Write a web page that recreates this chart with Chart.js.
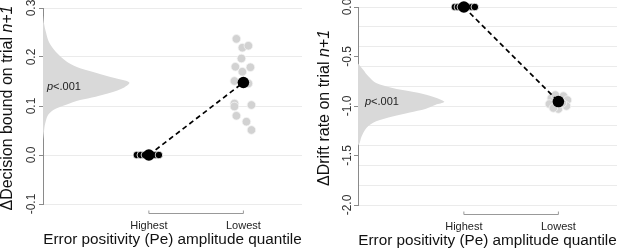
<!DOCTYPE html>
<html>
<head>
<meta charset="utf-8">
<script src="https://cdn.jsdelivr.net/npm/chart.js@4/dist/chart.umd.min.js"></script>
<style>
  body { margin: 0; background: #fff; }
  #wrap { position: relative; width: 617px; height: 250px; }
  canvas { position: absolute; top: 0; }
</style>
</head>
<body>
<div id="wrap">
  <canvas id="boundChart" width="310" height="250" style="left:0"></canvas>
  <canvas id="driftChart" width="307" height="250" style="left:310px"></canvas>
</div>
<script>
var quantiles = ["Highest", "Lowest"];

// left panel: change in decision bound
var boundTicks = [-0.1, 0.0, 0.1, 0.2, 0.3];
var boundMeans = [0, 0.148];
var boundHighest = [0, 0, 0, 0, 0, 0];
var boundHighestJitter = [-0.127, -0.085, -0.042, 0.042, 0.074, 0.106];
var boundLowest = [0.237, 0.219, 0.223, 0.197, 0.180, 0.179, 0.170, 0.151, 0.146, 0.105, 0.099, 0.102, 0.080, 0.068, 0.051];
var boundLowestJitter = [-0.074, -0.011, 0.053, -0.021, -0.085, 0.074, -0.011, -0.095, 0.053, -0.095, -0.095, 0.085, -0.074, 0.032, 0.085];
var boundDensityY = [0.285, 0.27, 0.25, 0.23, 0.21, 0.19, 0.177, 0.167, 0.157, 0.148, 0.138, 0.127, 0.119, 0.112, 0.102, 0.092, 0.082, 0.071, 0.06, 0.045, 0.03];
var boundDensity = [0, 1, 3.5, 7, 15, 28, 43, 63, 83, 100, 94, 78, 61, 43, 26, 12, 6, 3.5, 2, 1, 0];

// right panel: change in drift rate
var driftTicks = [-2.0, -1.5, -1.0, -0.5, 0.0];
var driftMeans = [0, -0.955];
var driftHighest = [0, 0, 0, 0, 0, 0];
var driftHighestJitter = [-0.095, -0.063, -0.032, 0.042, 0.085, 0.116];
var driftLowest = [-0.92, -0.89, -0.90, -0.94, -0.98, -1.0, -1.03, -1.02, -0.97];
var driftLowestJitter = [-0.074, -0.032, 0.053, 0.095, -0.095, 0.085, 0, -0.053, 0.042];
var driftDensityY = [-0.57, -0.633, -0.70, -0.768, -0.818, -0.852, -0.886, -0.936, -0.96, -0.987, -1.03, -1.065, -1.105, -1.155, -1.22, -1.31, -1.37, -1.40];
var driftDensity = [0, 6, 12, 21, 40, 60, 79, 96, 100, 90, 78, 60, 40, 21, 10, 4, 2, 0];

var FONT = '"Liberation Sans", Arial, sans-serif';

function pairs(xs, ys, base) {
  var out = [];
  for (var i = 0; i < ys.length; i++) {
    out.push({ x: (base || 0) + xs[i], y: ys[i] });
  }
  return out;
}

function drawMixed(ctx, parts, x, y) {
  // parts: [[text, italic], ...] drawn left to right starting at x
  var cx = x;
  parts.forEach(function (p) {
    ctx.font = (p[1] ? 'italic ' : '') + ctx._size + 'px ' + FONT;
    ctx.fillText(p[0], cx, y);
    cx += ctx.measureText(p[0]).width;
  });
}

function mixedWidth(ctx, parts) {
  var w = 0;
  parts.forEach(function (p) {
    ctx.font = (p[1] ? 'italic ' : '') + ctx._size + 'px ' + FONT;
    w += ctx.measureText(p[0]).width;
  });
  return w;
}

var axisText = {
  id: 'axisText',
  afterDraw: function (chart, args, opts) {
    var ctx = chart.ctx;
    var area = chart.chartArea;
    var xs = chart.scales.x, ys = chart.scales.y;
    ctx.save();

    // rotated y tick labels
    ctx.fillStyle = '#333';
    ctx.font = '12px ' + FONT;
    ctx.textAlign = 'center';
    ctx.textBaseline = 'middle';
    opts.ticks.forEach(function (v) {
      ctx.save();
      ctx.translate(area.left - opts.tickGap, ys.getPixelForValue(v));
      ctx.rotate(-Math.PI / 2);
      ctx.fillText(v.toFixed(1), 0, 0);
      ctx.restore();
    });

    // y axis title
    ctx.fillStyle = '#111';
    ctx.textAlign = 'left';
    ctx._size = 16;
    var tw = mixedWidth(ctx, opts.yTitle);
    ctx.save();
    ctx.translate(area.left - opts.titleGap, (area.top + area.bottom) / 2 + 2);
    ctx.rotate(-Math.PI / 2);
    drawMixed(ctx, opts.yTitle, -tw / 2, 0);
    ctx.restore();

    // p value next to the density
    ctx.fillStyle = '#222';
    ctx._size = 11;
    drawMixed(ctx, [['p', true], ['<.001', false]], area.left + opts.pX, ys.getPixelForValue(opts.pY));

    // bracket under the two quantiles
    var x1 = xs.getPixelForValue(1), x2 = xs.getPixelForValue(2);
    var by = Math.round(area.bottom + 9) + 0.5;
    ctx.strokeStyle = '#999';
    ctx.lineWidth = 1;
    ctx.beginPath();
    ctx.moveTo(x1, by - 3);
    ctx.lineTo(x1, by);
    ctx.lineTo(x2, by);
    ctx.lineTo(x2, by - 3);
    ctx.stroke();

    // category labels
    ctx.fillStyle = '#222';
    ctx.font = '11px ' + FONT;
    ctx.textAlign = 'center';
    quantiles.forEach(function (q, i) {
      ctx.fillText(q, xs.getPixelForValue(i + 1), area.bottom + 22);
    });

    // x axis title
    ctx.fillStyle = '#111';
    ctx.font = '15.3px ' + FONT;
    ctx.fillText('Error positivity (Pe) amplitude quantile', (area.left + area.right) / 2, area.bottom + 36);
    ctx.restore();
  }
};

function makeChart(id, cfg) {
  var datasets = [
    {
      type: 'line',
      data: [{ x: 1, y: cfg.means[0] }, { x: 2, y: cfg.means[1] }],
      borderColor: '#000',
      borderWidth: 1.7,
      borderDash: [5, 3.5],
      pointRadius: 5.8,
      pointBorderWidth: 0,
      pointBackgroundColor: '#000',
      clip: false
    },
    {
      type: 'scatter',
      data: pairs(cfg.highJitter, cfg.high, 1),
      pointRadius: 3.8,
      pointBackgroundColor: '#000',
      pointBorderColor: '#fff',
      pointBorderWidth: 0.8,
      clip: false
    },
    {
      type: 'scatter',
      data: pairs(cfg.lowJitter, cfg.low, 2),
      pointRadius: 4.3,
      pointBackgroundColor: '#d2d2d2',
      pointBorderColor: '#f4f4f4',
      pointBorderWidth: 0.8,
      clip: false
    },
    {
      type: 'line',
      xAxisID: 'xd',
      data: pairs(cfg.density, cfg.densityY),
      borderWidth: 0,
      pointRadius: 0,
      tension: 0.3,
      backgroundColor: '#d9d9d9',
      fill: 'shape'
    }
  ];

  return new Chart(document.getElementById(id), {
    type: 'scatter',
    data: { datasets: datasets },
    options: {
      responsive: false,
      animation: false,
      events: [],
      layout: { autoPadding: false, padding: cfg.padding },
      plugins: {
        legend: { display: false },
        tooltip: { enabled: false },
        axisText: cfg.text
      },
      scales: {
        x: { type: 'linear', display: false, min: -0.12, max: 2.62 },
        xd: { type: 'linear', display: false, min: 0, max: 300 },
        y: {
          type: 'linear',
          min: cfg.yMin,
          max: cfg.yMax,
          afterFit: function (s) { s.width = cfg.axisWidth; },
          ticks: { display: false, stepSize: 0.1, maxTicksLimit: 100, autoSkip: false },
          border: { color: '#8a8a8a', width: 1 },
          grid: {
            tickLength: 4,
            color: function (c) {
              var k = Math.round(c.tick.value * 10);
              return k % cfg.gridEvery === 0 ? '#ebebeb' : 'rgba(0,0,0,0)';
            },
            tickColor: function (c) {
              var k = Math.round(c.tick.value * 10);
              return k % cfg.labelEvery === 0 ? '#8a8a8a' : 'rgba(0,0,0,0)';
            }
          }
        }
      }
    },
    plugins: [axisText]
  });
}

makeChart('boundChart', {
  means: boundMeans,
  high: boundHighest, highJitter: boundHighestJitter,
  low: boundLowest, lowJitter: boundLowestJitter,
  density: boundDensity, densityY: boundDensityY,
  yMin: -0.1, yMax: 0.3, gridEvery: 1, labelEvery: 1,
  axisWidth: 43,
  padding: { left: 0, right: 8, top: 8, bottom: 46 },
  text: {
    ticks: boundTicks, tickGap: 11, titleGap: 35, pX: 4, pY: 0.139,
    yTitle: [['\u0394Decision bound on trial ', false], ['n+1', true]]
  }
});

makeChart('driftChart', {
  means: driftMeans,
  high: driftHighest, highJitter: driftHighestJitter,
  low: driftLowest, lowJitter: driftLowestJitter,
  density: driftDensity, densityY: driftDensityY,
  yMin: -2, yMax: 0, gridEvery: 2, labelEvery: 5,
  axisWidth: 48,
  padding: { left: 0, right: 0, top: 7, bottom: 45 },
  text: {
    ticks: driftTicks, tickGap: 10, titleGap: 33, pX: 7, pY: -0.958,
    yTitle: [['\u0394Drift rate on trial ', false], ['n+1', true]]
  }
});
</script>
</body>
</html>
